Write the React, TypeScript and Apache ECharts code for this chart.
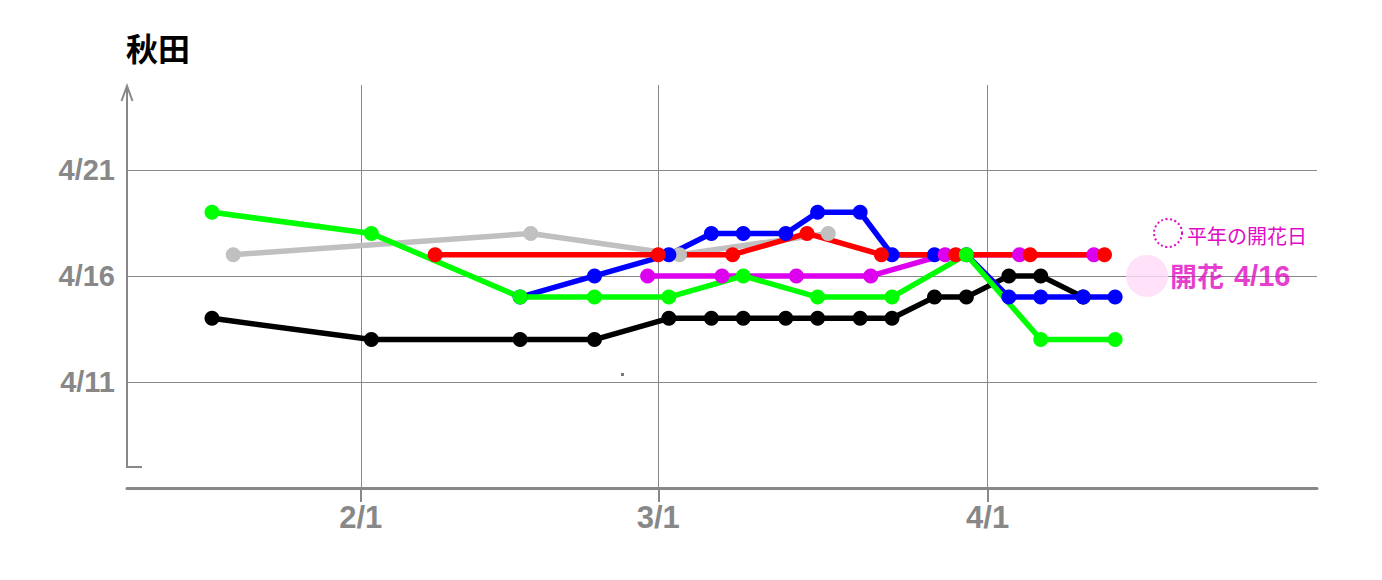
import React, { useEffect, useRef } from "react";
import * as echarts from "echarts";

const titleText = "秋田";
const xTickLabels = ["2/1", "3/1", "4/1"];
const yTickLabels = ["4/11", "4/16", "4/21"];

const grayDates = ["1/20", "2/17", "3/3", "3/17"];
const grayValues = [17, 18, 17, 18];
const blackDates = ["1/18", "2/2", "2/16", "2/23", "3/2", "3/6", "3/9", "3/13", "3/16", "3/20", "3/23", "3/27", "3/30", "4/3", "4/6", "4/10"];
const blackValues = [14, 13, 13, 13, 14, 14, 14, 14, 14, 14, 14, 15, 15, 16, 16, 15];
const blueDates = ["2/16", "2/23", "3/2", "3/6", "3/9", "3/13", "3/16", "3/20", "3/23", "3/27", "3/30", "4/3", "4/6", "4/10", "4/13"];
const blueValues = [15, 16, 17, 18, 18, 18, 19, 19, 17, 17, 17, 15, 15, 15, 15];
const magentaDates = ["2/28", "3/7", "3/14", "3/21", "3/28", "4/4", "4/11"];
const magentaValues = [16, 16, 16, 16, 17, 17, 17];
const redDates = ["2/8", "3/1", "3/8", "3/15", "3/22", "3/29", "4/5", "4/12"];
const redValues = [17, 17, 17, 18, 17, 17, 17, 17];
const greenDates = ["1/18", "2/2", "2/16", "2/23", "3/2", "3/9", "3/16", "3/23", "3/30", "4/6", "4/13"];
const greenValues = [19, 18, 15, 15, 15, 16, 15, 15, 17, 13, 13];

const bloomDate = "4/16";
const bloomLabel = "開花";
const normalLabel = "平年の開花日";

const CUM = [0, 31, 59, 90, 120, 151];
const doy = (s: string) => {
  const [m, d] = s.split("/").map(Number);
  return CUM[m - 1] + d;
};
const fromDoy = (v: number) => {
  let m = 1;
  while (m < 6 && v > CUM[m]) m++;
  return `${m}/${v - CUM[m - 1]}`;
};
const aprilDay = (s: string) => Number(s.split("/")[1]);

const FONT = "'Liberation Sans', 'Noto Sans CJK JP', sans-serif";
const CJK = "'Noto Sans CJK JP', sans-serif";
const AXIS_GRAY = "#888888";
const MAGENTA = "#e00ac4";

const lineSeries = (dates: string[], values: number[], color: string) => ({
  type: "line",
  data: dates.map((d, i) => [doy(d), values[i]]),
  symbol: "circle",
  symbolSize: 15,
  showSymbol: true,
  lineStyle: { color, width: 5.5 },
  itemStyle: { color },
  emphasis: { disabled: true },
});

export default function App() {
  const ref = useRef<HTMLDivElement>(null);
  useEffect(() => {
    if (!ref.current) return;
    const chart = echarts.init(ref.current, undefined, { renderer: "svg" });
    const xTickValues = xTickLabels.map(doy);
    const yTickValues = yTickLabels.map(aprilDay);
    chart.setOption({
      animation: false,
      grid: { left: 127, right: 65, top: 85, bottom: 92, containLabel: false, outerBoundsMode: "none" },
      xAxis: {
        type: "value",
        min: 10,
        max: 122,
        axisLine: { show: true, onZero: false, lineStyle: { color: AXIS_GRAY, width: 3 } },
        axisTick: { show: true, length: 14, lineStyle: { color: AXIS_GRAY, width: 2 }, customValues: xTickValues },
        axisLabel: {
          customValues: xTickValues,
          formatter: (v: number) => fromDoy(v),
          color: AXIS_GRAY,
          fontSize: 31,
          fontWeight: "bold",
          fontFamily: FONT,
          margin: 14,
        },
        splitLine: { show: true, lineStyle: { color: AXIS_GRAY, width: 1 } },
      },
      yAxis: {
        type: "value",
        min: 6,
        max: 25,
        axisLine: { show: false },
        axisTick: { show: false, customValues: yTickValues },
        axisLabel: {
          customValues: yTickValues,
          formatter: (v: number) => `4/${v}`,
          color: AXIS_GRAY,
          fontSize: 29,
          fontWeight: "bold",
          fontFamily: FONT,
          margin: 12,
        },
        splitLine: { show: true, lineStyle: { color: AXIS_GRAY, width: 1 } },
      },
      series: [
        lineSeries(grayDates, grayValues, "#c0c0c0"),
        lineSeries(blackDates, blackValues, "#000000"),
        lineSeries(blueDates, blueValues, "#0000ff"),
        lineSeries(magentaDates, magentaValues, "#dd00ee"),
        lineSeries(redDates, redValues, "#ff0000"),
        lineSeries(greenDates, greenValues, "#00ff00"),
        {
          type: "scatter",
          data: [[doy(bloomDate), aprilDay(bloomDate)]],
          symbol: "circle",
          symbolSize: 42,
          itemStyle: { color: "#ffd9f7" },
          emphasis: { disabled: true },
          label: {
            show: true,
            position: "right",
            distance: 2,
            formatter: `{a|${bloomLabel}}{s| }{b|${bloomDate}}`,
            rich: {
              a: { color: MAGENTA, fontSize: 27, fontWeight: "bold", fontFamily: CJK },
              s: { fontSize: 27, width: 10 },
              b: { color: MAGENTA, fontSize: 29, fontWeight: "bold", fontFamily: FONT },
            },
          },
        },
      ],
      graphic: [
        {
          type: "text",
          left: 126,
          top: 31,
          style: { text: titleText, fontSize: 32, fontWeight: "bold", fill: "#000", fontFamily: CJK },
        },
        {
          type: "polyline",
          shape: { points: [[142, 467], [127, 467], [127, 86]] },
          style: { stroke: AXIS_GRAY, lineWidth: 2, fill: "none" },
        },
        {
          type: "polyline",
          shape: { points: [[121.5, 101], [127, 86], [132.5, 101]] },
          style: { stroke: AXIS_GRAY, lineWidth: 2, fill: "none" },
        },
        {
          type: "circle",
          shape: { cx: 1168, cy: 233, r: 14 },
          style: { stroke: MAGENTA, lineWidth: 2, lineDash: [2, 2.5], fill: "none" },
        },
        {
          type: "text",
          x: 1187,
          y: 235,
          style: { text: normalLabel, fontSize: 20, fill: MAGENTA, fontFamily: CJK, verticalAlign: "middle" },
        },
        {
          type: "rect",
          shape: { x: 621, y: 373, width: 3, height: 3 },
          style: { fill: "#777" },
        },
      ],
    });
    return () => chart.dispose();
  }, []);
  return <div ref={ref} style={{ position: "absolute", left: 0, top: 0, width: 1382, height: 580 }} />;
}
